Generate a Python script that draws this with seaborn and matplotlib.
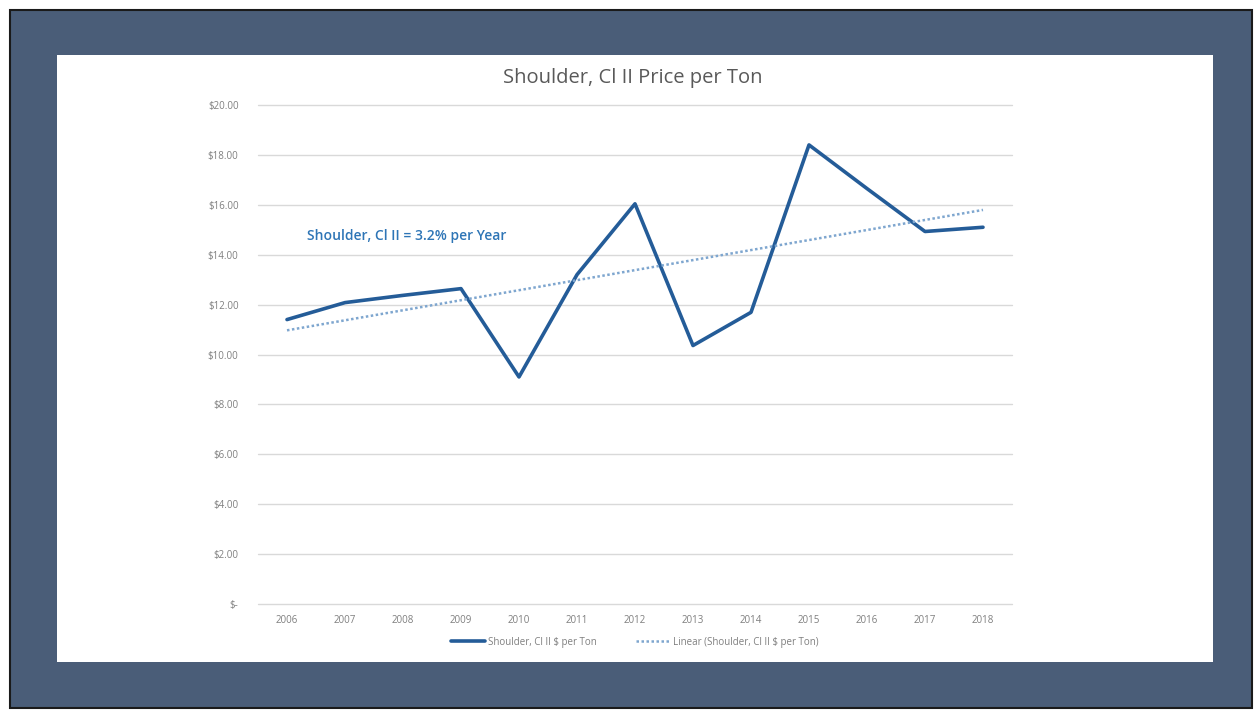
import numpy as np
import pandas as pd
import matplotlib
matplotlib.use("Agg")
import matplotlib.pyplot as plt
from matplotlib.patches import Rectangle
from matplotlib.ticker import FuncFormatter
import seaborn as sns

# values
years = [2006, 2007, 2008, 2009, 2010, 2011, 2012, 2013, 2014, 2015, 2016, 2017, 2018]
price = [11.40, 12.08, 12.37, 12.64, 9.10, 13.20, 16.04, 10.36, 11.69, 18.40, 16.65, 14.93, 15.10]
y_ticks = [0, 2, 4, 6, 8, 10, 12, 14, 16, 18, 20]

title = "Shoulder, Cl II Price per Ton"
note = "Shoulder, Cl II = 3.2% per Year"
series_name = "Shoulder, Cl II $ per Ton"
trend_name = "Linear (Shoulder, Cl II $ per Ton)"

sns.set_theme(style="white")
plt.rcParams['font.family'] = ['Open Sans', 'DejaVu Sans']

df = pd.DataFrame({"Year": years, "Price": price})
slope, icpt = np.polyfit(df["Year"], df["Price"], 1)
df["Trend"] = slope * df["Year"] + icpt

fig = plt.figure(figsize=(12.6, 7.11), dpi=100)
fig.patch.set_facecolor("white")
W, H = 1260, 711
# slate frame and white panel, kept behind the axes
fig.patches.append(Rectangle((10 / W, 1 - 708 / H), 1242 / W, 698 / H, transform=fig.transFigure,
                             facecolor="#4a5d78", edgecolor="#1a1a1a", linewidth=1.5, zorder=-2))
fig.patches.append(Rectangle((57 / W, 1 - 662 / H), 1156 / W, 607 / H, transform=fig.transFigure,
                             facecolor="white", edgecolor="none", zorder=-1))

ax = fig.add_axes([258 / W, 1 - 604 / H, 754 / W, 499 / H])
ax.set_facecolor("none")

sns.lineplot(data=df, x="Year", y="Price", ax=ax, color="#245c98", linewidth=2.6,
             label=series_name)
sns.lineplot(data=df, x="Year", y="Trend", ax=ax, color="#7ea6cf", linewidth=1.8,
             linestyle=(0, (1, 1)), label=trend_name)

ax.set_xlim(2005.5, 2018.5)
ax.set_ylim(0, 20)
ax.set_xticks(years)
ax.set_yticks(y_ticks)
ax.yaxis.set_major_formatter(FuncFormatter(lambda v, p: "$-" if v == 0 else f"${v:.2f}"))
ax.tick_params(axis="both", length=0, labelsize=7, labelcolor="#7f7f7f")
ax.tick_params(axis="y", pad=14)
ax.tick_params(axis="x", pad=8)
ax.grid(axis="y", color="#d9d9d9", linewidth=1)
for gl in ax.get_ygridlines():
    gl.set_clip_on(False)
ax.set_axisbelow(True)
for s in ax.spines.values():
    s.set_visible(False)
ax.set_xlabel("")
ax.set_ylabel("")

ax.text(2006.35, 14.75, note, color="#2e75b6", fontsize=10, fontweight="semibold",
        ha="left", va="center")

fig.text(633 / W, 1 - 78 / H, title, ha="center", va="center", fontsize=14.5, color="#595959")

ax.legend(loc="center", bbox_to_anchor=(0.5, (604 - 642) / 499), ncol=2, frameon=False,
          fontsize=7, labelcolor="#7f7f7f", handlelength=3.5, handletextpad=0.3,
          columnspacing=4)

fig.savefig("out.png", dpi=100, facecolor=fig.get_facecolor())
